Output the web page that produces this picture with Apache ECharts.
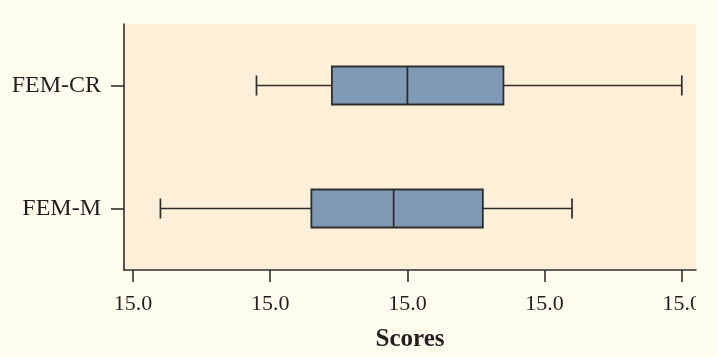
<!DOCTYPE html>
<html>
<head>
<meta charset="utf-8">
<script src="https://cdn.jsdelivr.net/npm/echarts@6/dist/echarts.min.js"></script>
<style>
html,body{margin:0;padding:0;background:#fffcee;}
#chart{width:717px;height:357px;}
</style>
</head>
<body>
<div id="chart"></div>
<script>
// Data
var categories = ['FEM-CR', 'FEM-M'];
// [low whisker, Q1, median, Q3, high whisker]
var femCR = [14.978, 14.989, 15.000, 15.014, 15.040];
var femM  = [14.964, 14.986, 14.998, 15.011, 15.024];
var tickValues = [14.96, 14.98, 15.00, 15.02, 15.04];
var tickLabels = ['15.0', '15.0', '15.0', '15.0', '15.0'];
var axisTitle = 'Scores';

var boxSeries = [femCR, femM];
var seriesData = boxSeries.map(function (s, i) { return [i].concat(s); });

var FONT = "'Liberation Serif','Times New Roman',serif";
var LINE = '#2e2e2e';

var chart = echarts.init(document.getElementById('chart'));

function renderBox(params, api) {
  var cat = api.value(0);
  var lo = api.coord([api.value(1), cat]);
  var q1 = api.coord([api.value(2), cat]);
  var md = api.coord([api.value(3), cat]);
  var q3 = api.coord([api.value(4), cat]);
  var hi = api.coord([api.value(5), cat]);
  var y = lo[1];
  var bh = 38, ch = 20;
  var lineStyle = { stroke: LINE, lineWidth: 1.7 };
  return {
    type: 'group',
    children: [
      { type: 'line', shape: { x1: lo[0], y1: y, x2: q1[0], y2: y }, style: lineStyle },
      { type: 'line', shape: { x1: q3[0], y1: y, x2: hi[0], y2: y }, style: lineStyle },
      { type: 'line', shape: { x1: lo[0], y1: y - ch / 2, x2: lo[0], y2: y + ch / 2 }, style: lineStyle },
      { type: 'line', shape: { x1: hi[0], y1: y - ch / 2, x2: hi[0], y2: y + ch / 2 }, style: lineStyle },
      { type: 'rect', shape: { x: q1[0], y: y - bh / 2, width: q3[0] - q1[0], height: bh },
        style: { fill: '#7f9ab4', stroke: LINE, lineWidth: 1.8 } },
      { type: 'line', shape: { x1: md[0], y1: y - bh / 2, x2: md[0], y2: y + bh / 2 },
        style: { stroke: LINE, lineWidth: 1.8 } }
    ]
  };
}

var option = {
  backgroundColor: '#fffcee',
  animation: false,
  grid: {
    left: 124, right: 21, top: 24, bottom: 87,
    show: true, backgroundColor: '#feefd9', borderWidth: 0
  },
  xAxis: {
    type: 'value',
    min: 14.95869,
    max: 15.04207,
    splitLine: { show: false },
    axisLine: { show: true, lineStyle: { color: LINE, width: 1.6 } },
    axisTick: { show: true, length: 12, customValues: tickValues, lineStyle: { color: LINE, width: 1.6 } },
    axisLabel: {
      customValues: tickValues,
      margin: 23,
      color: '#231f20',
      fontFamily: FONT,
      fontSize: 22,
      formatter: function (v) {
        var i = tickValues.findIndex(function (t) { return Math.abs(t - v) < 1e-6; });
        return i >= 0 ? tickLabels[i] : '';
      }
    },
    name: axisTitle,
    nameLocation: 'middle',
    nameGap: 57,
    nameTextStyle: { color: '#231f20', fontFamily: FONT, fontSize: 25, fontWeight: 'bold' }
  },
  yAxis: {
    type: 'category',
    data: categories,
    inverse: true,
    axisLine: { show: true, lineStyle: { color: LINE, width: 1.6 } },
    axisTick: { show: true, alignWithLabel: true, length: 13, lineStyle: { color: LINE, width: 1.6 } },
    axisLabel: { margin: 23, color: '#231f20', fontFamily: FONT, fontSize: 24 },
    splitLine: { show: false }
  },
  series: [{
    type: 'custom',
    renderItem: renderBox,
    encode: { x: [1, 2, 3, 4, 5], y: 0 },
    data: seriesData
  }],
  graphic: [{
    type: 'rect',
    left: 696, top: 278,
    shape: { width: 21, height: 40 },
    style: { fill: '#fffcee' },
    z: 100
  }]
};

chart.setOption(option);
</script>
</body>
</html>
